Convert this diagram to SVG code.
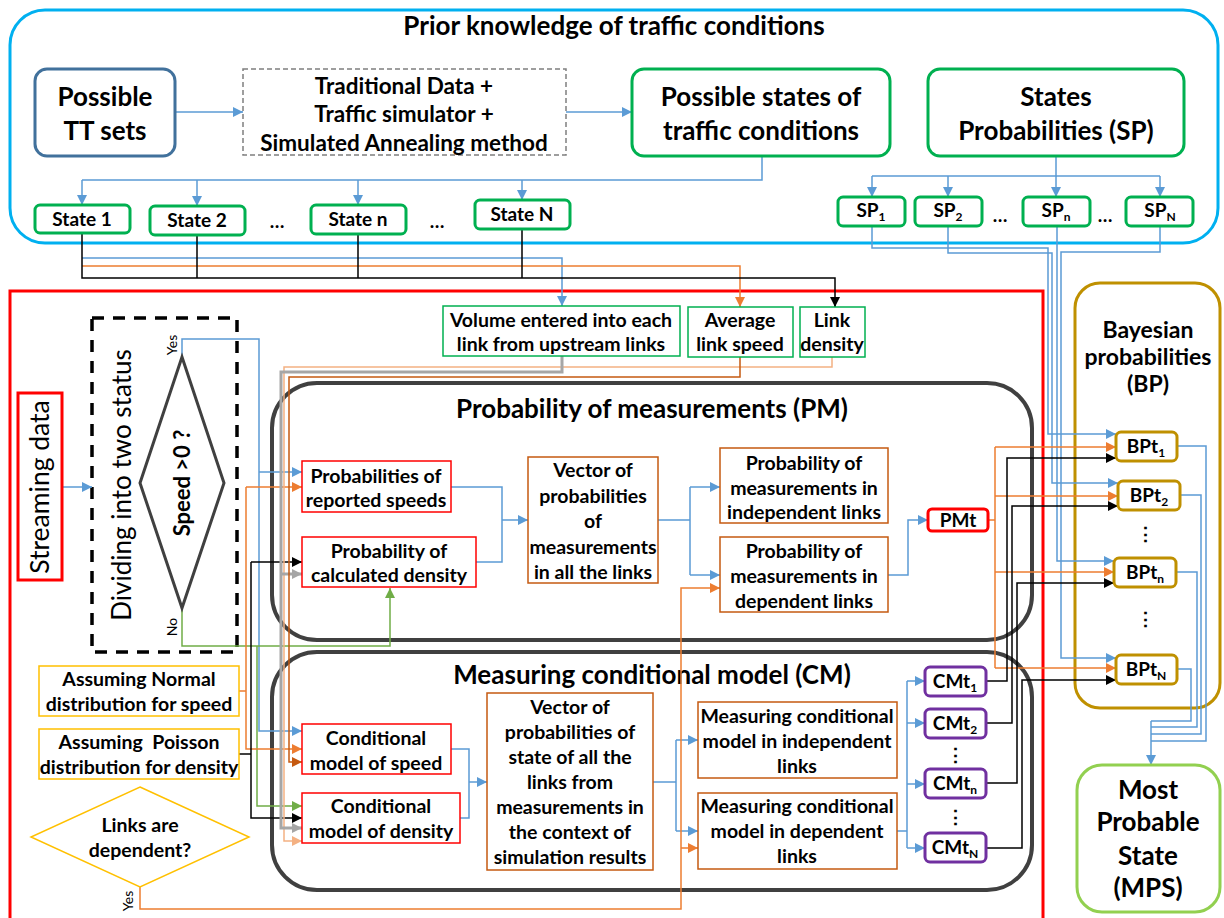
<svg xmlns="http://www.w3.org/2000/svg" width="1224" height="918" viewBox="0 0 1224 918">
<style>
  text { font-family: Lato, "Liberation Sans", sans-serif; fill: #000; text-anchor: middle; }
  .b { font-weight: bold; }
  .big { font-size: 26px; font-weight: bold; }
  .ttl { font-size: 26px; font-weight: bold; }
  .md { font-size: 19.5px; font-weight: bold; }
  .sm { font-size: 19px; font-weight: bold; }
  .lbl { font-size: 14px; }
  .box { fill: #fff; }
  .c { fill: none; stroke-width: 1.5; }
  .blue { stroke: #5b9bd5; }
  .org { stroke: #ed7d31; }
  .blk { stroke: #000; }
  .grn { stroke: #70ad47; }
  .gry { stroke: #a6a6a6; stroke-width: 3; }
  .dorg { stroke: #c55a11; }
  .pch { stroke: #f4b183; }
  .ab { marker-end: url(#mb); }
  .ao { marker-end: url(#mo); }
  .ak { marker-end: url(#mk); }
  .ag { marker-end: url(#mg); }
  .ay { marker-end: url(#my); }
  .ad { marker-end: url(#md); }
  .ap { marker-end: url(#mp); }
</style>
<defs>
  <marker id="mb" viewBox="0 0 10 10" refX="10" refY="5" markerWidth="11" markerHeight="10" markerUnits="userSpaceOnUse" orient="auto"><path d="M0,0 L10,5 L0,10 z" fill="#5b9bd5"/></marker>
  <marker id="mo" viewBox="0 0 10 10" refX="10" refY="5" markerWidth="11" markerHeight="10" markerUnits="userSpaceOnUse" orient="auto"><path d="M0,0 L10,5 L0,10 z" fill="#ed7d31"/></marker>
  <marker id="mk" viewBox="0 0 10 10" refX="10" refY="5" markerWidth="11" markerHeight="10" markerUnits="userSpaceOnUse" orient="auto"><path d="M0,0 L10,5 L0,10 z" fill="#000"/></marker>
  <marker id="mg" viewBox="0 0 10 10" refX="10" refY="5" markerWidth="11" markerHeight="10" markerUnits="userSpaceOnUse" orient="auto"><path d="M0,0 L10,5 L0,10 z" fill="#70ad47"/></marker>
  <marker id="my" viewBox="0 0 10 10" refX="10" refY="5" markerWidth="11" markerHeight="10" markerUnits="userSpaceOnUse" orient="auto"><path d="M0,0 L10,5 L0,10 z" fill="#a6a6a6"/></marker>
  <marker id="md" viewBox="0 0 10 10" refX="10" refY="5" markerWidth="11" markerHeight="10" markerUnits="userSpaceOnUse" orient="auto"><path d="M0,0 L10,5 L0,10 z" fill="#c55a11"/></marker>
  <marker id="mp" viewBox="0 0 10 10" refX="10" refY="5" markerWidth="11" markerHeight="10" markerUnits="userSpaceOnUse" orient="auto"><path d="M0,0 L10,5 L0,10 z" fill="#f4b183"/></marker>
</defs>

<rect width="1224" height="918" fill="#fff"/>

<!-- containers -->
<g id="prior-knowledge">
  <rect x="10" y="10" width="1208" height="233" rx="35" fill="none" stroke="#00b0f0" stroke-width="3"/>
  <text class="ttl" x="614" y="35">Prior knowledge of traffic conditions</text>
</g>
<g id="streaming-area">
  <rect x="10" y="291" width="1033" height="650" fill="none" stroke="#ff0000" stroke-width="3"/>
</g>
<g id="pm-group">
  <rect x="272" y="383" width="760" height="257" rx="45" fill="none" stroke="#404040" stroke-width="4"/>
  <text class="ttl" x="652" y="418">Probability of measurements (PM)</text>
</g>
<g id="cm-group">
  <rect x="272" y="652" width="760" height="238" rx="45" fill="none" stroke="#404040" stroke-width="4"/>
  <text class="ttl" x="652" y="684">Measuring conditional model (CM)</text>
</g>
<g id="bp-group">
  <rect x="1075" y="283" width="145" height="425" rx="25" fill="none" stroke="#bf9000" stroke-width="3"/>
  <text class="b" font-size="23" x="1148" y="338">Bayesian</text>
  <text class="b" font-size="23" x="1148" y="365">probabilities</text>
  <text class="b" font-size="23" x="1148" y="392">(BP)</text>
</g>
<g id="dividing">
  <rect x="92" y="318" width="145" height="334" fill="none" stroke="#000" stroke-width="3.5" stroke-dasharray="12 9"/>
  <text font-size="26" transform="translate(131,485) rotate(-90)">Dividing into two status</text>
</g>

<!-- connectors -->
<g id="connectors">
  <!-- prior knowledge -->
  <path class="c blue ab" d="M175,112 H243"/>
  <path class="c blue ab" d="M566,112 H632"/>
  <path class="c blue" d="M762,156 V180 H82"/>
  <path class="c blue ab" d="M82,180 V205"/>
  <path class="c blue ab" d="M197,180 V206"/>
  <path class="c blue ab" d="M358,180 V205"/>
  <path class="c blue ab" d="M522,180 V200"/>
  <path class="c blue" d="M1056,156 V176 H872"/>
  <path class="c blue" d="M1056,176 H1160"/>
  <path class="c blue ab" d="M872,176 V197"/>
  <path class="c blue ab" d="M948,176 V197"/>
  <path class="c blue ab" d="M1056,176 V197"/>
  <path class="c blue ab" d="M1160,176 V197"/>

  <!-- states to link measures -->
  <path class="c blue ab" d="M82,258 H562 V306"/>
  <path class="c org ao" d="M82,266 H740 V307"/>
  <path class="c blk" stroke-width="2" d="M197,235 V278 M358,234 V278 M522,229 V278"/>
  <path class="c blk ak" stroke-width="2" d="M82,233 V278 H835 V307"/>

  <!-- state probabilities to Bayesian -->
  <path class="c blue ab" d="M872,226 V248 H1048 V434 H1116"/>
  <path class="c blue ab" d="M948,226 V253 H1052 V483 H1118"/>
  <path class="c blue ab" d="M1057,226 V561 H1114"/>
  <path class="c blue ab" d="M1160,226 V252 H1061 V658 H1116"/>

  <!-- Bayesian to MPS -->
  <path class="c blue" d="M1177,446 H1206 V741 H1151"/>
  <path class="c blue" d="M1180,495 H1201 V734 H1151"/>
  <path class="c blue" d="M1176,572 H1197 V727 H1151"/>
  <path class="c blue" d="M1177,669 H1191 V721 H1151"/>
  <path class="c blue ab" d="M1151,721 V765"/>

  <!-- PMt to Bayesian -->
  <path class="c org" d="M988,520 H995 M995,447 V668"/>
  <path class="c org ao" d="M995,447 H1116"/>
  <path class="c org ao" d="M995,496 H1118"/>
  <path class="c org ao" d="M995,572 H1114"/>
  <path class="c org ao" d="M995,668 H1116"/>

  <!-- CMt to Bayesian -->
  <path class="c blk ak" d="M986,681 H1007 V458 H1116"/>
  <path class="c blk ak" d="M986,723 H1012 V506 H1118"/>
  <path class="c blk ak" d="M986,783 H1017 V583 H1114"/>
  <path class="c blk ak" d="M986,848 H1022 V680 H1116"/>

  <!-- inside PM -->
  <path class="c blue" d="M451,487 H502 V562 H476"/>
  <path class="c blue ab" d="M502,520 H528"/>
  <path class="c blue" d="M658,520 H690 M690,487 V575"/>
  <path class="c blue ab" d="M690,487 H720"/>
  <path class="c blue ab" d="M690,575 H720"/>
  <path class="c blue ab" d="M888,575 H908 V520 H928"/>

  <!-- inside CM -->
  <path class="c blue" d="M451,749 H469 V818 H460"/>
  <path class="c blue ab" d="M469,782 H487"/>
  <path class="c blue" d="M653,782 H676 M676,740 V831"/>
  <path class="c blue ab" d="M676,740 H698"/>
  <path class="c blue ab" d="M676,831 H698"/>
  <path class="c blue" d="M897,831 H907 M907,681 V848"/>
  <path class="c blue ab" d="M907,681 H925"/>
  <path class="c blue ab" d="M907,723 H925"/>
  <path class="c blue ab" d="M907,784 H925"/>
  <path class="c blue ab" d="M907,848 H925"/>

  <!-- streaming / speed split -->
  <path class="c blue ab" d="M62,487 H92"/>
  <path class="c blue ab" d="M182,357 V339 H259 V731 H302"/>
  <path class="c blue ab" d="M259,472 H302"/>
  <path class="c grn ag" d="M182,608 V646 H390 V588"/>
  <path class="c grn ag" d="M257,646 V806 H302"/>

  <!-- assumptions -->
  <path class="c org" d="M239,691 H246"/>
  <path class="c org ao" d="M246,487 V749 H302"/>
  <path class="c org ao" d="M246,487 H302"/>
  <path class="c blk" d="M239,754 H251"/>
  <path class="c blk ak" d="M251,562 V818 H302"/>
  <path class="c blk ak" d="M251,562 H302"/>

  <!-- link measures feedback -->
  <path class="c pch ap" d="M832,357 V367 H284 V841 H302"/>
  <path class="c gry ay" d="M562,356 V372 H281 V828 H302"/>
  <path class="c gry ay" d="M281,574 H302"/>
  <path class="c dorg ad" d="M740,357 V377 H289 V762 H302"/>

  <!-- dependency decision -->
  <path class="c org ao" d="M140,887 V909 H681 V588 H720"/>
  <path class="c org ao" d="M681,848 H698"/>
</g>

<!-- prior knowledge nodes -->
<g id="tt-sets">
  <rect x="35" y="69" width="140" height="87" rx="12" class="box" stroke="#41719c" stroke-width="3"/>
  <text class="big" x="105" y="106">Possible</text>
  <text class="big" x="105" y="140">TT sets</text>
</g>
<g id="simulation">
  <rect x="243" y="69" width="323" height="86" class="box" stroke="#7f7f7f" stroke-width="1.5" stroke-dasharray="5 3"/>
  <text class="b" font-size="22.5" x="404" y="94">Traditional Data +</text>
  <text class="b" font-size="22.5" x="404" y="122">Traffic simulator +</text>
  <text class="b" font-size="22.5" x="404" y="151">Simulated Annealing method</text>
</g>
<g id="possible-states">
  <rect x="632" y="69" width="258" height="87" rx="12" class="box" stroke="#00b050" stroke-width="3"/>
  <text class="big" x="761" y="106">Possible states of</text>
  <text class="big" x="761" y="140">traffic conditions</text>
</g>
<g id="states-probabilities">
  <rect x="928" y="69" width="256" height="87" rx="12" class="box" stroke="#00b050" stroke-width="3"/>
  <text class="big" x="1056" y="106">States</text>
  <text class="big" x="1056" y="140">Probabilities (SP)</text>
</g>
<g id="state-1"><rect x="35" y="205" width="95" height="28" rx="5" class="box" stroke="#00b050" stroke-width="3"/><text class="sm" x="82" y="226">State 1</text></g>
<g id="state-2"><rect x="150" y="206" width="95" height="29" rx="5" class="box" stroke="#00b050" stroke-width="3"/><text class="sm" x="197" y="227">State 2</text></g>
<g id="state-n"><rect x="311" y="205" width="95" height="29" rx="5" class="box" stroke="#00b050" stroke-width="3"/><text class="sm" x="358" y="226">State n</text></g>
<g id="state-N"><rect x="475" y="200" width="95" height="29" rx="5" class="box" stroke="#00b050" stroke-width="3"/><text class="sm" x="522" y="221">State N</text></g>
<g id="state-dots"><text class="sm" x="277" y="228">…</text><text class="sm" x="437" y="228">…</text></g>
<g id="sp-1"><rect x="838" y="197" width="67" height="29" rx="5" class="box" stroke="#00b050" stroke-width="3"/><text class="sm" x="871" y="217">SP<tspan font-size="12" dy="4">1</tspan></text></g>
<g id="sp-2"><rect x="915" y="197" width="67" height="29" rx="5" class="box" stroke="#00b050" stroke-width="3"/><text class="sm" x="948" y="217">SP<tspan font-size="12" dy="4">2</tspan></text></g>
<g id="sp-n"><rect x="1023" y="197" width="67" height="29" rx="5" class="box" stroke="#00b050" stroke-width="3"/><text class="sm" x="1056" y="217">SP<tspan font-size="12" dy="4">n</tspan></text></g>
<g id="sp-N"><rect x="1126" y="197" width="67" height="29" rx="5" class="box" stroke="#00b050" stroke-width="3"/><text class="sm" x="1160" y="217">SP<tspan font-size="12" dy="4">N</tspan></text></g>
<g id="sp-dots"><text class="sm" x="1000" y="222">…</text><text class="sm" x="1105" y="222">…</text></g>

<!-- link measures -->
<g id="volume">
  <rect x="443" y="306" width="237" height="50" class="box" stroke="#00b050" stroke-width="1.5"/>
  <text class="md" x="561" y="327">Volume entered into each</text>
  <text class="md" x="561" y="351">link from upstream links</text>
</g>
<g id="avg-speed">
  <rect x="688" y="307" width="105" height="50" class="box" stroke="#00b050" stroke-width="1.5"/>
  <text class="md" x="740" y="327">Average</text>
  <text class="md" x="740" y="351">link speed</text>
</g>
<g id="link-density">
  <rect x="800" y="307" width="65" height="50" class="box" stroke="#00b050" stroke-width="1.5"/>
  <text class="md" x="832" y="327">Link</text>
  <text class="md" x="832" y="351">density</text>
</g>

<!-- streaming side -->
<g id="streaming-data">
  <rect x="18" y="393" width="44" height="187" class="box" stroke="#ff0000" stroke-width="3"/>
  <text font-size="26.5" transform="translate(49,487) rotate(-90)">Streaming data</text>
</g>
<g id="speed-check">
  <polygon points="182,357 224,483 182,608 140,483" class="box" stroke="#404040" stroke-width="3"/>
  <text class="b" font-size="22" transform="translate(190,483) rotate(-90)">Speed &gt;0 ?</text>
  <text class="lbl" transform="translate(177,345) rotate(-90)">Yes</text>
  <text class="lbl" transform="translate(177,627) rotate(-90)">No</text>
</g>
<g id="normal-assumption">
  <rect x="39" y="666" width="200" height="50" class="box" stroke="#ffc000" stroke-width="1.5"/>
  <text class="md" x="139" y="686">Assuming Normal</text>
  <text class="md" x="139" y="711">distribution for speed</text>
</g>
<g id="poisson-assumption">
  <rect x="39" y="729" width="200" height="50" class="box" stroke="#ffc000" stroke-width="1.5"/>
  <text class="md" x="139" y="749" xml:space="preserve">Assuming  Poisson</text>
  <text class="md" x="139" y="774">distribution for density</text>
</g>
<g id="dependency-check">
  <polygon points="140,787 249,837 140,887 31,837" class="box" stroke="#ffc000" stroke-width="1.5"/>
  <text class="md" x="140" y="832">Links are</text>
  <text class="md" x="140" y="857">dependent?</text>
  <text class="lbl" transform="translate(133,901) rotate(-90)">Yes</text>
</g>

<!-- PM nodes -->
<g id="pm-speed">
  <rect x="302" y="461" width="149" height="51" class="box" stroke="#ff0000" stroke-width="1.5"/>
  <text class="md" x="376" y="483">Probabilities of</text>
  <text class="md" x="376" y="507">reported speeds</text>
</g>
<g id="pm-density">
  <rect x="302" y="537" width="174" height="50" class="box" stroke="#ff0000" stroke-width="1.5"/>
  <text class="md" x="389" y="558">Probability of</text>
  <text class="md" x="389" y="582">calculated density</text>
</g>
<g id="pm-vector">
  <rect x="528" y="457" width="130" height="126" class="box" stroke="#c55a11" stroke-width="1.5"/>
  <text class="md" x="593" y="477">Vector of</text>
  <text class="md" x="593" y="503">probabilities</text>
  <text class="md" x="593" y="528">of</text>
  <text class="md" x="593" y="554">measurements</text>
  <text class="md" x="593" y="579">in all the links</text>
</g>
<g id="pm-independent">
  <rect x="720" y="448" width="168" height="75" class="box" stroke="#c55a11" stroke-width="1.5"/>
  <text class="md" x="804" y="470">Probability of</text>
  <text class="md" x="804" y="495">measurements in</text>
  <text class="md" x="804" y="519">independent links</text>
</g>
<g id="pm-dependent">
  <rect x="720" y="537" width="168" height="75" class="box" stroke="#c55a11" stroke-width="1.5"/>
  <text class="md" x="804" y="558">Probability of</text>
  <text class="md" x="804" y="583">measurements in</text>
  <text class="md" x="804" y="608">dependent links</text>
</g>
<g id="pmt">
  <rect x="928" y="509" width="60" height="22" rx="4" class="box" stroke="#ff0000" stroke-width="3"/>
  <text class="sm" x="958" y="527">PMt</text>
</g>

<!-- CM nodes -->
<g id="cm-speed">
  <rect x="302" y="724" width="149" height="50" class="box" stroke="#ff0000" stroke-width="1.5"/>
  <text class="md" x="376" y="745">Conditional</text>
  <text class="md" x="376" y="770">model of speed</text>
</g>
<g id="cm-density">
  <rect x="302" y="793" width="158" height="50" class="box" stroke="#ff0000" stroke-width="1.5"/>
  <text class="md" x="381" y="813">Conditional</text>
  <text class="md" x="381" y="838">model of density</text>
</g>
<g id="cm-vector">
  <rect x="487" y="693" width="166" height="177" class="box" stroke="#c55a11" stroke-width="1.5"/>
  <text class="md" x="570" y="714">Vector of</text>
  <text class="md" x="570" y="739">probabilities of</text>
  <text class="md" x="570" y="764">state of all the</text>
  <text class="md" x="570" y="789">links from</text>
  <text class="md" x="570" y="814">measurements in</text>
  <text class="md" x="570" y="839">the context of</text>
  <text class="md" x="570" y="864">simulation results</text>
</g>
<g id="cm-independent">
  <rect x="698" y="702" width="199" height="76" class="box" stroke="#c55a11" stroke-width="1.5"/>
  <text class="md" x="797" y="723">Measuring conditional</text>
  <text class="md" x="797" y="748">model in independent</text>
  <text class="md" x="797" y="773">links</text>
</g>
<g id="cm-dependent">
  <rect x="698" y="793" width="199" height="76" class="box" stroke="#c55a11" stroke-width="1.5"/>
  <text class="md" x="797" y="813">Measuring conditional</text>
  <text class="md" x="797" y="838">model in dependent</text>
  <text class="md" x="797" y="863">links</text>
</g>
<g id="cmt-1"><rect x="925" y="667" width="61" height="29" rx="5" class="box" stroke="#7030a0" stroke-width="3"/><text class="sm" x="955" y="688">CMt<tspan font-size="12" dy="4">1</tspan></text></g>
<g id="cmt-2"><rect x="925" y="709" width="61" height="29" rx="5" class="box" stroke="#7030a0" stroke-width="3"/><text class="sm" x="955" y="730">CMt<tspan font-size="12" dy="4">2</tspan></text></g>
<g id="cmt-n"><rect x="925" y="769" width="61" height="29" rx="5" class="box" stroke="#7030a0" stroke-width="3"/><text class="sm" x="955" y="790">CMt<tspan font-size="12" dy="4">n</tspan></text></g>
<g id="cmt-N"><rect x="925" y="833" width="61" height="29" rx="5" class="box" stroke="#7030a0" stroke-width="3"/><text class="sm" x="955" y="854">CMt<tspan font-size="12" dy="4">N</tspan></text></g>
<g id="cmt-dots"><text class="sm" x="955" y="762">⋮</text><text class="sm" x="955" y="824">⋮</text></g>

<!-- Bayesian nodes -->
<g id="bpt-1"><rect x="1116" y="432" width="61" height="29" rx="5" class="box" stroke="#bf9000" stroke-width="3"/><text class="sm" x="1146" y="453">BPt<tspan font-size="12" dy="4">1</tspan></text></g>
<g id="bpt-2"><rect x="1118" y="481" width="62" height="29" rx="5" class="box" stroke="#bf9000" stroke-width="3"/><text class="sm" x="1149" y="502">BPt<tspan font-size="12" dy="4">2</tspan></text></g>
<g id="bpt-n"><rect x="1114" y="558" width="62" height="29" rx="5" class="box" stroke="#bf9000" stroke-width="3"/><text class="sm" x="1145" y="579">BPt<tspan font-size="12" dy="4">n</tspan></text></g>
<g id="bpt-N"><rect x="1116" y="655" width="61" height="29" rx="5" class="box" stroke="#bf9000" stroke-width="3"/><text class="sm" x="1146" y="676">BPt<tspan font-size="12" dy="4">N</tspan></text></g>
<g id="bpt-dots"><text class="sm" x="1145" y="541">⋮</text><text class="sm" x="1145" y="626">⋮</text></g>

<g id="mps">
  <rect x="1077" y="765" width="143" height="147" rx="25" class="box" stroke="#92d050" stroke-width="3"/>
  <text class="big" x="1148" y="799">Most</text>
  <text class="big" x="1148" y="831">Probable</text>
  <text class="big" x="1148" y="865">State</text>
  <text class="big" x="1148" y="897">(MPS)</text>
</g>
</svg>
